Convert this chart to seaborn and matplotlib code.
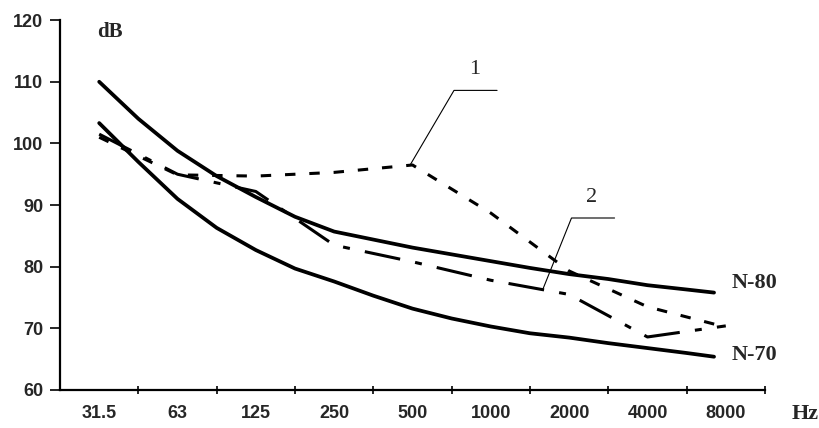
import numpy as np
import pandas as pd
import seaborn as sns
import matplotlib.pyplot as plt

# octave bands (Hz) on the x axis
freqs = ["31.5", "63", "125", "250", "500", "1000", "2000", "4000", "8000"]

# measured spectra 1 and 2 (dB), one value per octave band
curve1 = [101, 94.9, 94.7, 95.3, 96.5, 88.7, 79.3, 73.5, 70.2]
curve2 = [101.5, 95, 92.2, 83.5, 80.8, 77.8, 75.5, 68.6, 70.4]

# noise rating curves N-80 / N-70 read every half octave (band index)
n_band = [0, 0.5, 1, 1.5, 2, 2.5, 3, 3.5, 4, 4.5, 5, 5.5, 6, 6.5, 7, 7.5, 7.85]
n80 = [110, 104, 98.8, 94.7, 91.3, 88.1, 85.7, 84.4, 83.1, 82, 80.9, 79.8,
       78.8, 78.0, 77.0, 76.3, 75.8]
n70 = [103.3, 97, 91, 86.3, 82.7, 79.7, 77.6, 75.3, 73.2, 71.6, 70.3, 69.2,
       68.5, 67.6, 66.8, 66, 65.4]

sns.set_style("ticks")
plt.rcParams['font.family'] = ['Liberation Sans', 'DejaVu Sans']
plt.rcParams['lines.scale_dashes'] = False

band = np.arange(len(freqs))
df_meas = pd.DataFrame({"band": band, "1": curve1, "2": curve2})
df_nr = pd.DataFrame({"band": n_band, "N-80": n80, "N-70": n70})

fig = plt.figure(figsize=(8.19, 4.28), dpi=100)
ax = fig.add_axes([0.0733, 0.0888, 0.8607, 0.8642])

sns.lineplot(data=df_nr, x="band", y="N-80", ax=ax, color="k", lw=2.7)
sns.lineplot(data=df_nr, x="band", y="N-70", ax=ax, color="k", lw=2.7)
sns.lineplot(data=df_meas, x="band", y="1", ax=ax, color="k", lw=2.2,
             linestyle=(0, (7.5, 10)))
sns.lineplot(data=df_meas, x="band", y="2", ax=ax, color="k", lw=2.2,
             linestyle=(0, (26, 11, 5, 11)))

ax.set_xlim(-0.5, 8.5)
ax.set_ylim(60, 120)
ax.set_xlabel("")
ax.set_ylabel("")

ax.set_xticks(band)
ax.set_xticklabels(freqs, fontweight="bold", fontsize=13)
ax.set_xticks(np.arange(0.5, 8.6, 1), minor=True)
ax.tick_params(axis="x", which="major", length=0, pad=11)
ax.tick_params(axis="x", which="minor", length=6, width=1.4, direction="inout")
ax.set_yticks(np.arange(60, 121, 10))
ax.set_yticklabels([str(v) for v in range(60, 121, 10)], fontweight="bold", fontsize=13)
ax.tick_params(axis="y", length=7, width=1.4, direction="out", pad=5)

sns.despine(ax=ax)
for s in ("left", "bottom"):
    ax.spines[s].set_linewidth(1.6)
    ax.spines[s].set_color("k")

serif = ['Liberation Serif', 'DejaVu Serif']
ax.text(-0.03, 118, "dB", family=serif, fontweight="bold", fontsize=15, va="center")
ax.text(8.08, 77.4, "N-80", family=serif, fontweight="bold", fontsize=16, va="center")
ax.text(8.08, 65.7, "N-70", family=serif, fontweight="bold", fontsize=16, va="center")
ax.text(1.038, -0.065, "Hz", transform=ax.transAxes, family=serif, fontweight="bold",
        fontsize=16, va="center", ha="left", clip_on=False)

# curve labels with leader lines
ax.plot([3.97, 4.53, 5.08], [96.5, 108.6, 108.6], color="k", lw=0.8)
ax.text(4.8, 112, "1", family=serif, fontsize=16, ha="center", va="center")
ax.plot([5.66, 6.03, 6.58], [76.2, 87.9, 87.9], color="k", lw=0.8)
ax.text(6.28, 91.2, "2", family=serif, fontsize=16, ha="center", va="center")

fig.savefig("out.png", dpi=100)
